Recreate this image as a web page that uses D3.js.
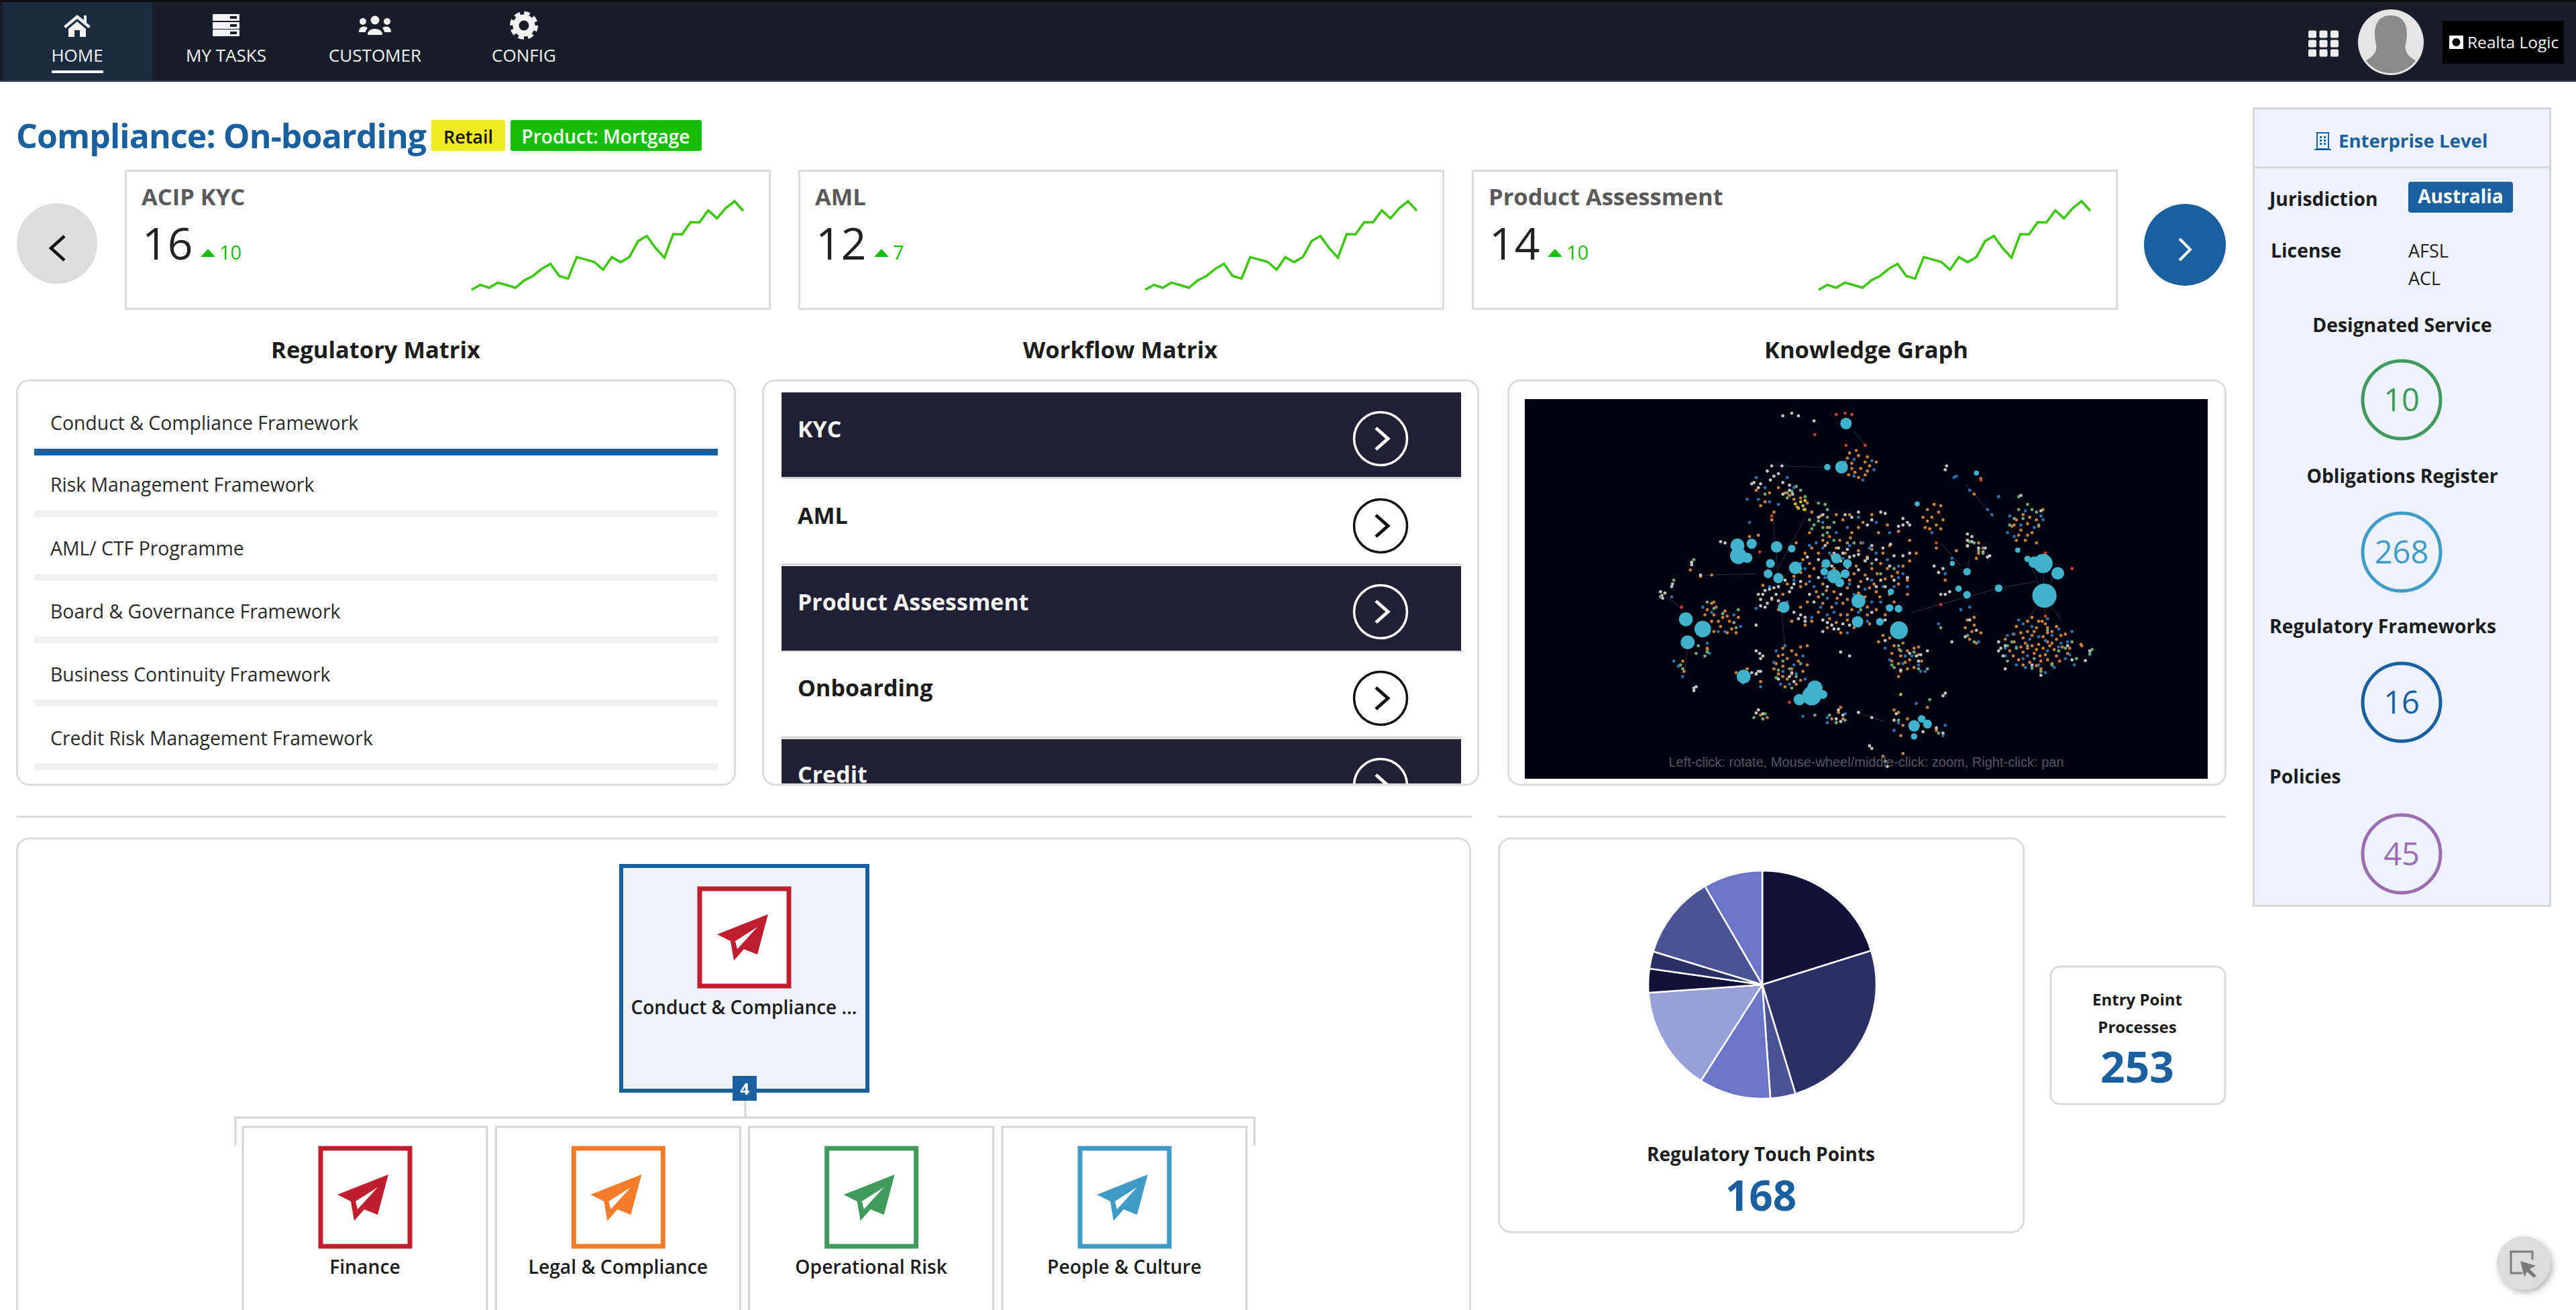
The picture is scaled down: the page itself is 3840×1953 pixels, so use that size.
<!DOCTYPE html>
<html>
<head>
<meta charset="utf-8">
<title>Compliance: On-boarding</title>
<script src="https://cdn.jsdelivr.net/npm/d3@7"></script>
<style>
    html, body { margin: 0; padding: 0; background: #fff; overflow: hidden; }
    text { font-family: "Open Sans", sans-serif; }
</style>
</head>
<body>
<svg id="page" width="3840" height="1953" viewBox="0 0 3840 1953"></svg>
<script>
const BLUE = "#1a5f9e";
const BORDER = "#dcdcdc";

const navItems = ["HOME", "MY TASKS", "CUSTOMER", "CONFIG"];
const pageTitle = "Compliance: On-boarding";
const tagLabels = ["Retail", "Product: Mortgage"];

const cardTitles = ["ACIP KYC", "AML", "Product Assessment"];
const cardValues = [16, 12, 14];
const cardDeltas = [10, 7, 10];
const sparkValues = [2.3, 4.5, 3.2, 5.5, 4.4, 3.2, 6.5, 8.5, 11.7, 14, 8.5, 7.3, 17, 15.9, 14.8, 11.3,
    17, 14.7, 17, 24.2, 26.5, 21, 16.7, 27.3, 27.2, 32.7, 32.6, 38, 34.4, 39, 42.1, 37.8];

const sectionTitles = ["Regulatory Matrix", "Workflow Matrix", "Knowledge Graph"];
const regulatoryItems = ["Conduct & Compliance Framework", "Risk Management Framework", "AML/ CTF Programme",
    "Board & Governance Framework", "Business Continuity Framework", "Credit Risk Management Framework"];
const workflowItems = ["KYC", "AML", "Product Assessment", "Onboarding", "Credit"];

const graphCaption = "Left-click: rotate, Mouse-wheel/middle-click: zoom, Right-click: pan";
// knowledge graph: [x, y, size] in picture units
const tealNodes = [[742,135,9],[732,305,10],[700,305,5],[498,610,11],[530,603,8],[500,650,13],[520,658,8],[586,615,9],
    [620,622,6],[572,680,7],[628,697,10],[567,720,7],[590,737,8],[602,850,9],[697,680,7],[720,660,8],[745,680,7],
    [693,712,6],[715,730,11],[740,720,7],[728,755,7],[770,826,11],[768,907,9],[818,907,6],[843,790,5],[840,853,6],
    [860,856,6],[861,940,14],[382,897,11],[420,935,13],[386,987,11],[512,1120,11],[665,1195,15],[637,1210,9],
    [672,1165,12],[690,1190,7],[895,1312,9],[925,1305,7],[912,1285,6],[895,1353,5],[1014,712,6],[995,778,5],
    [1014,802,6],[1085,776,6],[981,680,4],[1150,662,5],[1185,680,15],[1165,675,9],[1128,628,4],[1218,718,10],
    [1188,805,19],[902,448,4],[1035,328,4]];
const orangeNodes = [[1170,930],[1190,915],[1150,905],[1205,945],[1135,950],[1160,960],[1185,965],[1215,975],[1120,985],
    [1145,990],[1175,995],[1200,1000],[1228,1005],[1110,1020],[1140,1025],[1165,1030],[1190,1035],[1215,1040],[1235,955],
    [1130,1055],[1155,1065],[1180,1060],[1205,1070],[1180,1090],[1195,985],[1170,1015],[1150,945],[1210,1015],[1125,925],
    [1160,890],[1183,905],[1240,1030],[1270,995],[770,260],[785,285],[755,290],[775,310],[795,300],[762,325],[785,335],
    [745,270],[625,430],[640,425],[655,445],[632,460],[650,470],[615,415],[665,480],[685,495],[700,600],[720,620],[745,600],
    [770,630],[790,655],[740,640],[710,650],[680,640],[660,680],[765,690],[800,700],[820,680],[690,760],[715,790],[745,775],
    [775,750],[805,760],[830,740],[660,730],[640,770],[680,810],[710,850],[735,835],[755,860],[730,880],[785,810],[810,790],
    [845,730],[870,690],[885,670],[650,640],[735,510],[780,520],[815,560],[700,540],[755,560],[840,610],[720,910],[745,900],
    [700,930],[860,760],[640,850],[940,450],[925,470],[950,480],[935,500],[945,530],[920,540],[430,860],[445,880],[465,890],
    [480,905],[440,905],[460,925],[485,935],[425,880],[450,850],[470,865],[495,950],[600,1010],[620,1020],[640,1005],[590,1040],
    [610,1050],[635,1060],[600,1080],[620,1090],[645,1100],[590,1110],[610,1130],[630,1150],[605,1160],[585,1070],[850,1000],
    [870,990],[895,1010],[845,1030],[865,1040],[885,1055],[905,1035],[860,1070],[880,1090],[825,960],[815,985],[1125,510],
    [1150,525],[1170,510],[1135,550],[1160,560],[1115,535],[1145,590],[1170,600],[1030,920],[1025,945],[1020,975],[1045,350],
    [1015,610],[1040,640],[1030,410],[570,405],[550,455],[575,510],[525,575],[545,570],[415,730],[440,725],[392,705],[375,1060],
    [378,1100],[430,1010],[540,1110],[725,1260],[710,1285],[735,1285],[860,1260],[870,1310],[945,1330],[870,1420],[825,1430],[1272,1000],
    [705,575],[728,590],[752,580],[776,600],[800,625],[825,640],[690,590],[665,620],[645,665],[670,700],[690,690],[715,700],[760,720],
    [785,725],[812,720],[835,700],[858,715],[880,745],[640,715],[625,730],[652,760],[675,790],[698,785],[722,760],[750,745],[770,795],
    [795,775],[818,810],[840,800],[655,830],[690,835],[722,815],[745,820],[770,835],[790,850],[745,880],[770,895],[790,880],[810,860],
    [680,870],[705,895],[665,905],[730,950],[760,930],[795,915],[830,880],[850,830],[880,800],[600,800],[610,760],[575,820],[555,765],
    [590,860],[620,905],[650,920],[720,490],[750,490],[770,540],[800,490],[835,530],[860,555],[885,590],[900,640],[660,560],[630,600],
    [590,385],[605,405],[560,440],[540,395],[580,480],[1100,975],[1118,955],[1140,970],[1165,945],[1195,930],[1225,960],[1245,1010],
    [1118,1040],[1140,1075],[1170,1078],[1195,1055],[1222,1060],[1150,1010],[1178,1040],[1205,990],[1185,1010],[1160,1000],[1135,1005],
    [1175,905],[1215,925],[1195,950],[445,830],[475,885],[455,905],[500,890],[430,925],[475,950],[445,945],[630,1035],[600,1035],
    [655,1075],[580,1090],[620,1110],[600,1120],[640,1135],[655,1000],[840,970],[862,1015],[880,1020],[905,1005],[875,1065],[895,1085],
    [845,1060],[912,1060],[865,1100],[750,250],[765,240],[790,265],[810,285],[755,310],[790,320],[770,345],[748,335],[955,455],[915,500],
    [960,510],[925,515],[955,545],[930,545],[1140,490],[1120,530],[1155,500],[1175,535],[1130,570],[1150,570],[1185,470],[1125,590],
    [1030,890],[1015,900],[1045,950],[1035,990],[1010,930],[1040,600],[1050,620],[1035,660],[990,630],[965,745],[945,620],[860,1120],
    [850,1250],[880,1285],[925,1240],[865,1350],[730,1240],[720,1300],[550,1270],[565,1280],[430,1015],[440,835],[495,1105],[520,1090],[550,1140]];
const blueNodes = [[1105,960],[1140,915],[1220,935],[1240,985],[1100,1040],[1125,1075],[1160,1090],[1210,1085],[1235,1050],
    [1150,1040],[1195,1020],[1175,965],[1125,1005],[1205,960],[1255,1075],[1290,1035],[760,340],[740,285],[800,280],[780,355],
    [1110,495],[1135,530],[1165,540],[1180,495],[1105,560],[690,620],[735,660],[780,600],[810,640],[650,700],[670,770],[700,815],
    [760,800],[820,830],[850,770],[660,610],[720,560],[700,880],[770,870],[800,745],[870,720],[690,520],[810,520],[420,850],
    [490,880],[470,945],[430,990],[435,1030],[585,1020],[625,1075],[650,1130],[595,1150],[630,1110],[840,1055],[905,1075],
    [920,1100],[870,1070],[540,345],[610,345],[520,430],[570,440],[525,520],[375,1120],[365,1080],[700,1280],[850,1330],
    [960,1350],[985,345],[1070,490],[1085,420],[965,720],[1020,850],[645,1275],
    [675,600],[705,640],[750,610],[795,620],[835,665],[860,690],[640,680],[625,745],[660,750],[695,735],[750,760],[785,780],[825,770],
    [860,735],[685,850],[720,835],[760,840],[800,830],[835,850],[665,890],[715,870],[790,905],[745,950],[880,770],[770,500],[840,560],
    [745,540],[610,830],[570,770],[540,855],[1120,955],[1155,975],[1190,980],[1225,990],[1140,1050],[1175,1075],[1220,1005],[1245,1035],
    [1100,1010],[1195,895],[1130,900],[1160,925],[1145,1085],[1190,1105],[1250,945],[415,925],[505,925],[455,945],[440,870],[605,1000],
    [645,1040],[580,1065],[615,1150],[600,1100],[830,1010],[890,1040],[910,1100],[875,1040],[1145,475],[1120,575],[1185,510],[760,275],
    [805,315],[625,385],[560,385],[545,430],[590,450],[700,1300],[740,1265],[860,1300],[965,1310],[900,1225],[1000,860],[1040,985],
    [950,915],[990,340],[1020,395],[1060,470],[980,660],[935,560],[510,1145],[550,1160],[355,1060],[350,810]];
const whiteNodes = [[565,320],[580,340],[590,330],[572,355],[598,300],[600,105],[635,105],[620,95],[670,125],[615,395],[622,410],
    [535,365],[550,370],[968,300],[965,315],[1035,325],[1180,475],[1135,415],[735,640],[750,655],[730,670],[760,650],[745,625],
    [715,640],[790,660],[810,665],[625,760],[640,750],[620,775],[700,770],[770,770],[810,770],[830,770],[660,800],[690,900],
    [710,920],[725,935],[735,915],[700,910],[640,880],[650,890],[635,895],[555,800],[570,780],[580,775],[550,820],[565,835],
    [585,800],[540,920],[880,520],[870,530],[820,480],[830,485],[842,605],[790,530],[470,600],[460,595],[395,675],[415,725],
    [325,790],[352,760],[350,770],[330,815],[548,1030],[540,1110],[545,1100],[615,1120],[625,1140],[400,1165],[400,1175],
    [965,1185],[855,1265],[945,1320],[960,1340],[795,1390],[835,1470],[1085,985],[1290,1020],[1250,1055],[1280,1058],[1015,590],
    [1040,620],[1060,655],[1025,575],[1015,612],[960,700],[950,715],[965,800],[980,985],[900,1040],[905,1060],[1180,1115],
    [1100,1000],[1095,1040],[555,1265],[540,1262],[730,1025],[750,1040],[575,300],[720,1285],[735,1270],[770,1260],[800,1280],
    [725,620],[770,645],[785,670],[745,695],[770,705],[710,690],[680,665],[655,655],[695,610],[800,610],[825,620],[850,650],[840,690],
    [870,650],[885,640],[640,700],[605,745],[590,770],[615,790],[680,735],[730,800],[790,740],[820,745],[850,745],[880,735],[670,830],
    [760,910],[715,935],[690,945],[750,920],[800,870],[830,900],[650,905],[625,870],[560,785],[545,800],[575,815],[590,825],[560,850],
    [550,845],[755,500],[740,490],[770,480],[800,510],[870,505],[885,530],[860,535],[690,490],[680,500],[615,375],[600,365],[545,385],
    [530,370],[620,400],[600,410],[1015,565],[1025,595],[1050,635],[1065,650],[1055,620],[940,690],[975,790],[955,800],[1020,900],
    [1010,965],[1035,940],[885,1030],[910,1035],[925,1020],[865,1095],[830,980],[1240,1000],[1090,1010],[1085,1020],[1100,1090],
    [1160,1075],[540,1020],[555,1040],[550,1050],[530,1105],[520,1130],[550,1100],[620,1105],[590,1130],[335,795],[328,805],[395,685],
    [405,1160],[960,1195],[850,1290],[915,1335],[800,1400],[830,1450],[545,1250],[730,1295],[725,1250]];
const greenNodes = [[1110,530],[1130,470],[1150,450],[1170,480],[1115,985],[1150,1000],[1220,1020],[1250,985],[1160,1085],[1295,1015],
    [1105,1060],[1195,940],[630,380],[610,425],[680,445],[700,470],[690,540],[700,560],[670,530],[715,520],[715,590],[560,410],
    [400,665],[355,745],[325,810],[430,830],[490,910],[500,860],[410,1000],[430,1025],[615,1090],[630,1120],[590,1095],[895,1025],
    [860,1000],[925,1090],[850,1085],[740,1290],[555,1285],[672,1270],[1030,600],[1050,640],[950,1340],[930,1210],[1015,960],
    [660,510],[680,515],[700,500],[705,540],[665,545],[690,570],[620,400],[640,395],[610,405],[650,420],[695,450],[760,600],[800,680],
    [730,730],[690,800],[820,720],[775,860],[850,700],[1120,505],[1160,470],[1175,530],[1140,505],[1125,1010],[1165,1050],[1205,1075],
    [1235,1010],[1105,1000],[1180,1100],[1260,1050],[445,855],[465,875],[495,930],[405,1030],[425,1040],[600,1060],[640,1070],[585,1125],
    [620,1165],[865,1020],[845,1075],[905,1090],[535,1280],[560,1265],[705,1270],[720,1300],[860,1290],[1040,630],[1020,595],[1030,985],
    [955,930],[1290,1030],[1130,420],[375,1090],[370,1075]];
const redNodes = [[1250,700],[1190,640],[1190,885],[955,840],[665,1205],[615,1220],[372,850],[548,635],[575,495],[672,178],
    [742,220],[785,220],[720,100],[740,95],[755,100],[1045,355],[945,600]];
const yellowNodes = [[640,440],[645,455],[635,465],[650,435],[628,448],[648,470],[865,1190]];
const graphLinks = [[1188,805,1160,700],[1188,805,1185,690],[1188,805,1215,710],[1188,805,1150,900],[1188,805,1190,900],[1188,805,1225,900],
    [578,495,590,740],[590,740,605,1010],[700,305,580,300],[540,720,420,725],[1085,776,890,870],[1170,750,1085,776],[370,850,325,790],
    [1015,710,1020,660],[955,600,1000,690],[1010,370,1075,500],[760,165,790,230],[385,1000,380,1100],[765,1260,830,1295],[650,500,590,700]];

const rootNode = { label: "Conduct & Compliance ...", count: 4 };
const childLabels = ["Finance", "Legal & Compliance", "Operational Risk", "People & Culture"];
const childColors = ["#be1e2d", "#f47b2a", "#3f9a5c", "#409cc7"];

const pieValues = [33.9, 42.2, 6.0, 17.1, 24.9, 5.7, 4.1, 20.0, 14.1];
const pieColors = ["#10123a", "#2a3064", "#4a5494", "#6b76c7", "#97a1d9", "#10123a", "#2a3064", "#4a5494", "#6b76c7"];
const touchPointsLabel = "Regulatory Touch Points";
const touchPointsTotal = 168;
const entryPointLabel = ["Entry Point", "Processes"];
const entryPointTotal = 253;

const enterpriseTitle = "Enterprise Level";
const jurisdiction = "Australia";
const licenses = ["AFSL", "ACL"];
const registerLabels = ["Designated Service", "Obligations Register", "Regulatory Frameworks", "Policies"];
const registerValues = [10, 268, 16, 45];
const registerColors = ["#3f9a5c", "#409cc7", "#1a5f9e", "#9c6db0"];

const svg = d3.select("#page");
const clipDefs = svg.append("defs");

function addRect(parent, x, y, w, h, fill, stroke, strokeW, radius) {
    return parent.append("rect").attr("x", x).attr("y", y).attr("width", w).attr("height", h)
        .attr("fill", fill || "none").attr("stroke", stroke || "none").attr("stroke-width", strokeW || 0)
        .attr("rx", radius || 0);
}

function addText(parent, str, x, y, size, weight, fill, anchor) {
    return parent.append("text").attr("x", x).attr("y", y).attr("font-size", size)
        .attr("font-weight", weight || 400).attr("fill", fill || "#1c1c1c")
        .attr("text-anchor", anchor || "start").text(str);
}

function addChevron(parent, cx, cy, w, h, dir, color, strokeW) {
    const pts = [[cx - dir * w / 2, cy - h / 2], [cx + dir * w / 2, cy], [cx - dir * w / 2, cy + h / 2]];
    parent.append("path").attr("d", d3.line()(pts)).attr("fill", "none")
        .attr("stroke", color).attr("stroke-width", strokeW);
}

function drawNavIcon(g, idx, cx) {
    const white = "#f4f4f4";
    if (idx === 0) {
        g.append("path").attr("fill", white).attr("d",
            `M${cx},22 L${cx + 10},30 L${cx + 10},23 L${cx + 14},23 L${cx + 14},34 L${cx + 20},39 L${cx + 17},42 L${cx},28 L${cx - 17},42 L${cx - 20},39 Z`);
        g.append("path").attr("fill", white).attr("d",
            `M${cx},32 L${cx + 13},43 L${cx + 13},55 L${cx + 4},55 L${cx + 4},45 L${cx - 4},45 L${cx - 4},55 L${cx - 13},55 L${cx - 13},43 Z`);
    } else if (idx === 1) {
        [21, 33, 44].forEach(y => {
            addRect(g, cx - 20, y, 40, 10, white, null, 0, 1);
            addRect(g, cx + 6, y + 3, 10, 4, "#171e2a");
        });
    } else if (idx === 2) {
        [[-18, 32, 5], [18, 32, 5], [0, 30, 6.5]].forEach(h => {
            g.append("circle").attr("cx", cx + h[0]).attr("cy", h[1]).attr("r", h[2]).attr("fill", white);
        });
        g.append("path").attr("fill", white).attr("d",
            `M${cx - 11},52 C${cx - 12},40 ${cx + 12},40 ${cx + 11},52 Z M${cx - 24},48 C${cx - 24},38 ${cx - 14},38 ${cx - 11},42 C${cx - 14},45 ${cx - 14},47 ${cx - 14},48 Z M${cx + 24},48 C${cx + 24},38 ${cx + 14},38 ${cx + 11},42 C${cx + 14},45 ${cx + 14},47 ${cx + 14},48 Z`);
    } else {
        g.append("circle").attr("cx", cx).attr("cy", 38).attr("r", 12).attr("fill", "none")
            .attr("stroke", white).attr("stroke-width", 9);
        g.append("circle").attr("cx", cx).attr("cy", 38).attr("r", 18).attr("fill", "none")
            .attr("stroke", white).attr("stroke-width", 6).attr("stroke-dasharray", "8.1 6");
    }
}

function drawHeader() {
    const g = svg.append("g");
    addRect(g, 0, 0, 3840, 122, "#171e2a");
    addRect(g, 0, 0, 3840, 3, "#0b0e13");
    addRect(g, 0, 120, 3840, 2, "#3a4250");
    addRect(g, 3, 3, 224, 117, "#1a2a3f");
    const navX = d3.scalePoint().domain(navItems).range([115, 781]);
    navItems.forEach((label, i) => {
        drawNavIcon(g, i, navX(label));
        addText(g, label, navX(label), 92, 26, 400, "#f4f4f4", "middle");
    });
    addRect(g, 77, 105, 77, 4, "#ffffff");

    // grid icon, avatar and logo on the right
    d3.range(3).forEach(r => d3.range(3).forEach(c => {
        addRect(g, 3441 + c * 16.5, 45.5 + r * 14, 12, 11, "#eeeeee", null, 0, 2);
    }));
    clipDefs.append("clipPath").attr("id", "avatarClip").append("circle")
        .attr("cx", 3564).attr("cy", 63).attr("r", 46);
    g.append("circle").attr("cx", 3564).attr("cy", 63).attr("r", 49).attr("fill", "#e4e4e4");
    g.append("path").attr("fill", "#8a8a8a").attr("clip-path", "url(#avatarClip)").attr("d",
        "M3564,23 C3590,23 3590,50 3586,66 C3584,78 3590,86 3612,96 C3596,118 3532,118 3516,96 C3538,86 3544,78 3542,66 C3538,50 3538,23 3564,23 Z");
    addRect(g, 3641, 31, 181, 64, "#000000");
    addRect(g, 3651, 53, 21, 20, "#ffffff");
    g.append("circle").attr("cx", 3661.5).attr("cy", 63).attr("r", 6).attr("fill", "#000000");
    addText(g, "Realta Logic", 3678, 72, 24.5, 400, "#f4f4f4");
}

function drawTitle() {
    const g = svg.append("g");
    addText(g, pageTitle, 24, 221, 50, 700, BLUE).attr("letter-spacing", -0.9);
    addRect(g, 643, 179, 110, 46, "#f2e926", null, 0, 3);
    addText(g, tagLabels[0], 698, 214, 27, 600, "#111111", "middle");
    addRect(g, 761, 179, 285, 46, "#18bd05", null, 0, 3);
    addText(g, tagLabels[1], 903, 214, 28, 600, "#ffffff", "middle");
}

function drawCards() {
    const g = svg.append("g");
    const sparkX = d3.scaleLinear().domain([0, sparkValues.length - 1]).range([517, 922]);
    const sparkY = d3.scaleLinear().domain([2.3, 42.1]).range([432, 300]);
    const sparkLine = d3.line().x((d, i) => sparkX(i)).y(d => sparkY(d));

    g.append("circle").attr("cx", 85).attr("cy", 363).attr("r", 60).attr("fill", "#dddddd");
    addChevron(g, 86, 370, 20, 36, -1, "#111111", 4.5);
    g.append("circle").attr("cx", 3257).attr("cy", 365).attr("r", 61).attr("fill", BLUE);
    addChevron(g, 3257, 372, 16, 32, 1, "#ffffff", 4);

    cardTitles.forEach((title, i) => {
        const left = 186 + i * 1004;
        const card = g.append("g").attr("transform", `translate(${left},0)`);
        addRect(card, 1.5, 254.5, 960, 206, "#ffffff", BORDER, 3);
        addText(card, title, 25, 306, 34.5, 700, "#5a5a5a");
        addText(card, cardValues[i], 26, 387, 66, 400, "#222222");
        const valueWidth = 82;
        card.append("path").attr("fill", "#18bd05")
            .attr("d", d3.line()([[valueWidth + 42, 371], [valueWidth + 53, 383], [valueWidth + 31, 383]]));
        addText(card, cardDeltas[i], valueWidth + 59, 387, 29, 400, "#18bd05");
        card.append("path").attr("d", sparkLine(sparkValues)).attr("fill", "none")
            .attr("stroke", "#3cc80a").attr("stroke-width", 3.5);
    });
}

function drawSectionTitles() {
    const g = svg.append("g");
    const centers = [560, 1670, 2782];
    sectionTitles.forEach((t, i) => addText(g, t, centers[i], 534, 34.5, 700, "#1c1c1c", "middle"));
}

function drawRegulatoryMatrix() {
    const g = svg.append("g");
    addRect(g, 25.5, 567, 1070, 603, "#ffffff", BORDER, 3, 18);
    const barTops = [669, 761, 856, 949, 1043, 1138];
    const baselines = [641, 733, 828, 922, 1016, 1111];
    regulatoryItems.forEach((item, i) => {
        addText(g, item, 75, baselines[i], 28.4, 400, "#2a2a2a");
        addRect(g, 51, barTops[i], 1019, 10, i === 0 ? BLUE : "#f0f0f0");
    });
}

function drawWorkflowMatrix() {
    const g = svg.append("g");
    addRect(g, 1137.5, 567, 1066, 603, "#ffffff", BORDER, 3, 18);
    clipDefs.append("clipPath").attr("id", "workflowClip").append("rect")
        .attr("x", 1165).attr("y", 580).attr("width", 1013).attr("height", 588);
    const rows = g.append("g").attr("clip-path", "url(#workflowClip)");
    const rowTops = [585, 714, 844, 972, 1102];
    const rowCenters = [654, 784, 912, 1041, 1171];
    const baselines = [652, 781, 910, 1038, 1167];
    workflowItems.forEach((item, i) => {
        const dark = i % 2 === 0;
        const color = dark ? "#ffffff" : "#111111";
        addRect(rows, 1165, rowTops[i], 1013, 126, dark ? "#211f33" : "#ffffff");
        addRect(rows, 1165, rowTops[i] + 126, 1013, 3, "#d5d5d5");
        addText(rows, item, 1189, baselines[i], 34, 700, dark ? "#f4f4f4" : "#1c1c1c");
        rows.append("circle").attr("cx", 2058).attr("cy", rowCenters[i]).attr("r", 39.5)
            .attr("fill", "none").attr("stroke", color).attr("stroke-width", 3.5);
        addChevron(rows, 2060, rowCenters[i], 18, 32, 1, color, 5);
    });
}

function drawKnowledgeGraph() {
    const g = svg.append("g");
    addRect(g, 2248.5, 567, 1069, 603, "#ffffff", BORDER, 3, 18);
    addRect(g, 2273, 595, 1018, 566, "#01010f");
    const gx = d3.scaleLinear().domain([20, 1555]).range([2273, 3291]);
    const gy = d3.scaleLinear().domain([40, 1518]).range([595, 1161]);

    g.append("g").selectAll("line").data(graphLinks).enter().append("line")
        .attr("x1", d => gx(d[0])).attr("y1", d => gy(d[1]))
        .attr("x2", d => gx(d[2])).attr("y2", d => gy(d[3]))
        .attr("stroke", "#4a4658").attr("stroke-width", 1.2).attr("stroke-opacity", 0.55);

    const smallGroups = [
        [orangeNodes, "#c67f3e"], [blueNodes, "#2a6fb0"], [whiteNodes, "#c4c4c4"],
        [greenNodes, "#6fa874"], [redNodes, "#c8402f"], [yellowNodes, "#c9bc2c"]
    ];
    smallGroups.forEach(group => {
        g.append("g").selectAll("circle").data(group[0]).enter().append("circle")
            .attr("cx", d => gx(d[0])).attr("cy", d => gy(d[1])).attr("r", 2.4)
            .attr("fill", group[1]);
    });
    g.append("g").selectAll("circle").data(tealNodes).enter().append("circle")
        .attr("cx", d => gx(d[0])).attr("cy", d => gy(d[1])).attr("r", d => d[2] * 0.95)
        .attr("fill", "#41b2cc");

    addText(g, graphCaption, 2782, 1143, 20, 400, "#555766", "middle")
        .style("font-family", "'Liberation Sans', sans-serif");
}

function drawPlane(parent, cx, cy, color) {
    const g = parent.append("g").attr("transform", `translate(${cx},${cy})`);
    g.append("path").attr("fill", color)
        .attr("d", "M35,-34 L-41,-4 L-21,6 L-16,35 L-1,18 L19,26 Z");
    g.append("path").attr("fill", "#ffffff").attr("d", "M19,-15 L-14,6 L-11,18 Z");
}

function drawHierarchy() {
    const g = svg.append("g");
    addRect(g, 25.5, 1250, 2166, 800, "#ffffff", BORDER, 3, 18);

    // connectors
    const lineColor = "#d5d5d5";
    g.append("path").attr("fill", "none").attr("stroke", lineColor).attr("stroke-width", 3)
        .attr("d", "M351,1708 L351,1666 L1870,1666 L1870,1708 M1111,1641 L1111,1666");

    // root node
    addRect(g, 926, 1291, 367, 335, "#eef3f8", BLUE, 6);
    addRect(g, 1043, 1325, 133, 145, "#ffffff", "#be1e2d", 7);
    drawPlane(g, 1110, 1397, "#be1e2d");
    addText(g, rootNode.label, 1109, 1512, 28, 600, "#1c1c1c", "middle");
    addRect(g, 1092, 1604, 36, 37, BLUE);
    addText(g, rootNode.count, 1110, 1632, 24, 700, "#ffffff", "middle");

    // children
    const childX = d3.scalePoint().domain(childLabels).range([544, 1676]);
    childLabels.forEach((label, i) => {
        const cx = childX(label);
        addRect(g, cx - 182, 1680, 364, 320, "#ffffff", "#d5d5d5", 3);
        addRect(g, cx - 66, 1712, 133, 146, "#ffffff", childColors[i], 7);
        drawPlane(g, cx, 1785, childColors[i]);
        addText(g, label, cx, 1899, 28.3, 600, "#1c1c1c", "middle");
    });
}

function drawDividers() {
    const g = svg.append("g");
    addRect(g, 25, 1216, 2169, 3, BORDER);
    addRect(g, 2233, 1216, 1085, 3, BORDER);
}

function drawPie() {
    const g = svg.append("g");
    addRect(g, 2234.5, 1250, 782, 587, "#ffffff", BORDER, 3, 18);
    const pie = d3.pie().sort(null)(pieValues);
    const arc = d3.arc().innerRadius(0).outerRadius(170);
    g.append("g").attr("transform", "translate(2627,1468)")
        .selectAll("path").data(pie).enter().append("path")
        .attr("d", arc).attr("fill", (d, i) => pieColors[i])
        .attr("stroke", "#ffffff").attr("stroke-width", 2.5);
    addText(g, touchPointsLabel, 2625, 1731, 28, 700, "#1c1c1c", "middle");
    addText(g, touchPointsTotal, 2625, 1805, 62, 700, BLUE, "middle");

    addRect(g, 3057, 1441, 260, 205, "#ffffff", BORDER, 3, 14);
    addText(g, entryPointLabel[0], 3186, 1499, 24, 700, "#1c1c1c", "middle");
    addText(g, entryPointLabel[1], 3186, 1540, 24, 700, "#1c1c1c", "middle");
    addText(g, entryPointTotal, 3186, 1614, 64, 700, BLUE, "middle");
}

function drawEnterprisePanel() {
    const g = svg.append("g");
    addRect(g, 3359.5, 161.5, 442, 1189, "#ecf3fe", "#d8d8d8", 3);
    addRect(g, 3359, 248, 443, 3, "#d8d8d8");

    // building icon
    addRect(g, 3454, 198, 17, 24, "none", BLUE, 2);
    addRect(g, 3450, 222, 25, 2, BLUE);
    [0, 1, 2].forEach(r => [0, 1].forEach(c => addRect(g, 3458 + c * 6, 203 + r * 5, 3, 3, BLUE)));
    addText(g, enterpriseTitle, 3486, 220, 27.6, 700, BLUE);

    addText(g, "Jurisdiction", 3383, 307, 28.3, 700);
    addRect(g, 3590, 271, 156, 46, BLUE, null, 0, 4);
    addText(g, jurisdiction, 3668, 303, 28, 700, "#ffffff", "middle");
    addText(g, "License", 3385, 384, 28.3, 700);
    licenses.forEach((l, i) => addText(g, l, 3590, 384 + i * 41, 27, 400, "#222222"));

    const labelY = [495, 720, 944, 1168];
    const circleY = [596, 823, 1047, 1273];
    registerLabels.forEach((label, i) => {
        if (i < 2) {
            addText(g, label, 3581, labelY[i], 28.3, 700, "#1c1c1c", "middle");
        } else {
            addText(g, label, 3383, labelY[i], 28.3, 700);
        }
        g.append("circle").attr("cx", 3580).attr("cy", circleY[i]).attr("r", 58)
            .attr("fill", "none").attr("stroke", registerColors[i]).attr("stroke-width", 5);
        addText(g, registerValues[i], 3580, circleY[i] + 17, 47, 400, registerColors[i], "middle");
    });
}

function drawFloatingButton() {
    const g = svg.append("g");
    const filter = clipDefs.append("filter").attr("id", "btnShadow")
        .attr("x", "-40%").attr("y", "-40%").attr("width", "180%").attr("height", "180%");
    filter.append("feDropShadow").attr("dx", 3).attr("dy", 4).attr("stdDeviation", 5)
        .attr("flood-color", "#000000").attr("flood-opacity", 0.3);
    g.append("circle").attr("cx", 3762).attr("cy", 1883).attr("r", 40).attr("fill", "#dcdcdc")
        .attr("filter", "url(#btnShadow)");
    g.append("path").attr("fill", "none").attr("stroke", "#7c7c7c").attr("stroke-width", 3)
        .attr("d", "M3760,1898 L3743,1898 L3743,1866 L3775,1866 L3775,1878");
    g.append("path").attr("fill", "#7c7c7c")
        .attr("d", "M3757,1880 L3780,1887 L3771,1892 L3781,1902 L3777,1905 L3767,1896 L3763,1904 Z");
}

function start() {
    drawHeader();
    drawTitle();
    drawCards();
    drawSectionTitles();
    drawRegulatoryMatrix();
    drawWorkflowMatrix();
    drawKnowledgeGraph();
    drawDividers();
    drawHierarchy();
    drawPie();
    drawEnterprisePanel();
    drawFloatingButton();
}

start();
</script>
</body>
</html>
